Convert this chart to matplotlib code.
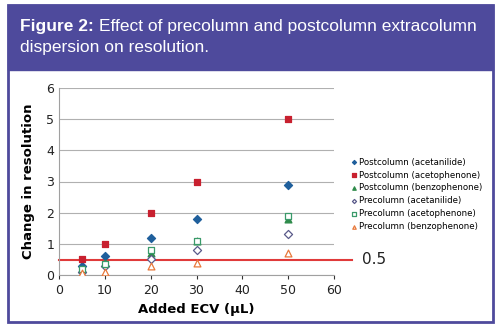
import matplotlib.pyplot as plt
from matplotlib.patches import Rectangle

# Added ECV (uL)
ecv = [5, 10, 20, 30, 50]

post_acetanilide = [0.28, 0.6, 1.2, 1.8, 2.9]
post_acetophenone = [0.5, 1.0, 2.0, 3.0, 5.0]
post_benzophenone = [0.2, 0.4, 0.7, 1.1, 1.8]
pre_acetanilide = [0.1, 0.3, 0.5, 0.8, 1.3]
pre_acetophenone = [0.2, 0.35, 0.8, 1.1, 1.9]
pre_benzophenone = [0.08, 0.1, 0.3, 0.4, 0.7]

threshold = 0.48

series = [
    ("Postcolumn (acetanilide)", post_acetanilide, "D", "#1f5f9c", True),
    ("Postcolumn (acetophenone)", post_acetophenone, "s", "#c8202f", True),
    ("Postcolumn (benzophenone)", post_benzophenone, "^", "#2e8b4a", True),
    ("Precolumn (acetanilide)", pre_acetanilide, "D", "#5a5a8a", False),
    ("Precolumn (acetophenone)", pre_acetophenone, "s", "#3a9a6a", False),
    ("Precolumn (benzophenone)", pre_benzophenone, "^", "#e8783a", False),
]

fig = plt.figure(figsize=(5, 3.3), dpi=100)
fig.patch.set_facecolor("white")

purple = "#4e4a9c"
# outer frame and header band
fig.patches.append(Rectangle((8 / 500, 1 - 322 / 330), 485 / 500, 317 / 330,
                             transform=fig.transFigure, facecolor="white",
                             edgecolor=purple, linewidth=2, zorder=0))
fig.patches.append(Rectangle((8 / 500, 1 - 70 / 330), 485 / 500, 65 / 330,
                             transform=fig.transFigure, facecolor=purple,
                             edgecolor=purple, linewidth=1, zorder=1))
t1 = fig.text(20 / 500, 1 - 31 / 330, "Figure 2:", color="white", fontsize=12.5,
              fontweight="bold", va="baseline", family="Liberation Sans")
fig.canvas.draw()
bb = t1.get_window_extent(fig.canvas.get_renderer())
fig.text(bb.x1 / 500 + 5 / 500, 1 - 31 / 330,
         "Effect of precolumn and postcolumn extracolumn",
         color="white", fontsize=12.5, va="baseline", family="Liberation Sans")
fig.text(20 / 500, 1 - 52 / 330, "dispersion on resolution.", color="white",
         fontsize=12.5, va="baseline", family="Liberation Sans")

ax = fig.add_axes([59 / 500, 1 - 275 / 330, 275 / 500, 187 / 330])
ax.set_zorder(5)
ax.patch.set_alpha(0)
ax.set_xlim(0, 60)
ax.set_ylim(0, 6)
ax.set_xticks(range(0, 61, 10))
ax.set_yticks(range(0, 7))
ax.yaxis.grid(True, color="#b0b0b0", linewidth=0.8)
ax.set_axisbelow(True)
for s in ["top", "right"]:
    ax.spines[s].set_visible(False)
for s in ["left", "bottom"]:
    ax.spines[s].set_color("#a0a0a0")
ax.tick_params(axis="both", labelsize=9, colors="#333333", length=3)
ax.tick_params(axis="y", length=0)
for lab in ax.get_xticklabels() + ax.get_yticklabels():
    lab.set_color("#222222")

for label, vals, marker, color, filled in series:
    ax.scatter(ecv, vals, marker=marker, s=24 if marker != "D" else 17,
               facecolors=color if filled else "white", edgecolors=color,
               linewidths=0.9, label=label, zorder=3)

ax.axhline(threshold, xmin=0, xmax=(352 - 59) / 275, color="#e03a3a",
           linewidth=1.5, clip_on=False, zorder=2)
ax.text(362 / 500, 1 - 260 / 330, "0.5", transform=fig.transFigure,
        fontsize=11, va="center", color="#222222")

ax.set_xlabel("Added ECV (\u00b5L)", fontsize=9.5, fontweight="bold", labelpad=4)
ax.set_ylabel("Change in resolution", fontsize=9.5, fontweight="bold", labelpad=8)

ax.legend(loc="upper left", bbox_to_anchor=(342 / 500, 1 - 150 / 330),
          bbox_transform=fig.transFigure, frameon=False, fontsize=6.2,
          markerscale=0.5, handletextpad=0.1, labelspacing=0.45,
          handlelength=1)

fig.savefig("out.png", dpi=100)
